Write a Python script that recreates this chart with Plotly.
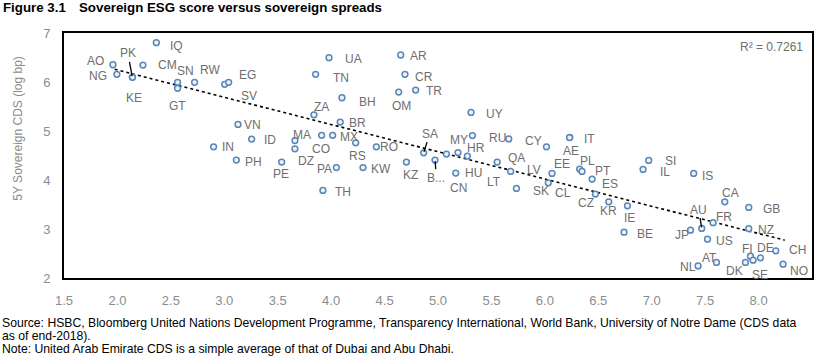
import plotly.graph_objects as go

# ---------------- data ----------------
codes = ["AO", "NG", "PK", "KE", "CM", "IQ", "SN", "GT", "RW", "SV", "EG",
         "UA", "TN", "AR", "CR", "OM", "TR", "BH", "ZA", "BR", "UY", "VN",
         "ID", "IN", "MA", "DZ", "CO", "MX", "RS", "RO", "PH", "PE", "PA",
         "KW", "TH", "KZ", "SA", "B...", "LT", "HR", "HU", "MY", "RU", "CN",
         "QA", "LV", "SK", "CY", "IT", "AE", "EE", "CL", "PL", "PT", "ES",
         "CZ", "KR", "IE", "BE", "IL", "SI", "IS", "CA", "FR", "AU", "JP",
         "US", "GB", "NZ", "CH", "DE", "FI", "SE", "DK", "AT", "NL", "NO"]

esg_score = [1.958, 1.995, 2.139, 2.141, 2.239, 2.364, 2.563, 2.563, 2.722, 3.003, 3.041,
             3.980, 3.855, 4.651, 4.691, 4.632, 4.791, 4.101, 3.839, 4.085, 5.309, 3.128,
             3.256, 2.900, 3.661, 3.661, 3.911, 4.014, 4.230, 4.423, 3.113, 3.537, 4.049,
             4.298, 3.923, 4.704, 4.866, 4.972, 5.079, 5.187, 5.275, 5.322, 5.662, 5.166,
             5.554, 5.680, 5.734, 6.015, 6.233, 6.231, 6.067, 6.032, 6.326, 6.348, 6.442,
             6.473, 6.598, 6.773, 6.741, 6.919, 6.972, 7.393, 7.684, 7.574, 7.468, 7.363,
             7.522, 7.908, 7.908, 8.161, 8.018, 7.924, 7.949, 7.877, 7.606, 7.434, 8.229]

cds_log_bp = [6.352, 6.156, 6.101, 6.095, 6.346, 6.802, 5.993, 5.870, 5.993, 5.952, 5.993,
              6.496, 6.156, 6.551, 6.156, 5.795, 5.836, 5.679, 5.331, 5.182, 5.380, 5.135,
              4.835, 4.678, 4.804, 4.637, 4.911, 4.911, 4.759, 4.678, 4.406, 4.365, 4.253,
              4.253, 3.787, 4.365, 4.555, 4.406, 4.529, 4.559, 4.488, 4.906, 4.839, 4.141,
              4.365, 4.175, 3.828, 4.678, 4.870, 4.866, 4.134, 3.942, 4.222, 4.175, 4.018,
              3.712, 3.554, 3.473, 2.935, 4.216, 4.400, 4.134, 3.554, 3.129, 3.011, 2.976,
              2.792, 3.440, 3.007, 2.554, 2.411, 2.445, 2.364, 2.317, 2.317, 2.247, 2.282]

# linear trend line end points
trend_x = [1.974, 8.245]
trend_y = [6.259, 2.772]

x_ticks = [1.5, 2.0, 2.5, 3.0, 3.5, 4.0, 4.5, 5.0, 5.5, 6.0, 6.5, 7.0, 7.5, 8.0, 8.5]
y_ticks = [2, 3, 4, 5, 6, 7]

r2_text = "R² = 0.7261"
title_num = "Figure 3.1"
title_text = "Sovereign ESG score versus sovereign spreads"
y_title = "5Y Sovereign CDS (log bp)"
source_lines = [
    "Source: HSBC, Bloomberg United Nations Development Programme, Transparency International, World Bank, University of Notre Dame (CDS data",
    "as of end-2018).",
    "Note: United Arab Emirate CDS is a simple average of that of Dubai and Abu Dhabi.",
]

# ---------------- label placement (pixel offsets, layout only) ----------------
label_offsets = {
    "AO": (-17.5, -3.4), "NG": (-18.5, 2), "PK": (-4.4, -23.7), "KE": (1.6, 20.7),
    "IQ": (20, 3.5), "CM": (25, 0), "SN": (8, -11.6), "RW": (15, -12), "EG": (19.3, -7.6),
    "SV": (24.5, 12), "GT": (0.3, 17.2), "UA": (24.4, 1), "TN": (25, 3.7), "AR": (17.3, 1.2),
    "CR": (19.4, 2.4), "OM": (3.2, 14.2), "TR": (18, 1.3), "BH": (25.4, 4.3), "ZA": (7.4, -8),
    "BR": (17.2, 0.8), "UY": (23.7, 1.7), "VN": (15, 0.4), "ID": (18.3, 0.5), "IN": (14.8, 0.5),
    "MA": (6.9, -5.2), "DZ": (11.4, 12.5), "CO": (-0.3, 13.4), "MX": (16, 1.5), "RS": (1.7, 13.1),
    "RO": (12.3, 0.3), "PH": (17.5, 1.7), "PE": (-0.7, 11.8), "PA": (-11.7, 1.7), "KW": (18, 1.7),
    "TH": (20, 1.7), "KZ": (4.6, 13), "SA": (6, -19.2), "B...": (1.4, 17.5), "LT": (47.5, 28),
    "HR": (18.4, -5), "HU": (6.5, 16.5), "MY": (-13.5, 4.5), "RU": (-11.5, -1.3), "CN": (3.2, 15.3),
    "QA": (19.3, -4), "LV": (23, -1.3), "SK": (24.6, 2.5), "CY": (-13.4, -5.4), "IT": (20, 1.4),
    "AE": (1.3, 13.2), "EE": (10.2, -9.6), "CL": (15, 9.8), "PL": (7.8, -8.2), "PT": (20.7, -0.5),
    "ES": (18.2, 5.2), "CZ": (-9.5, 8.5), "KR": (-0.7, 9.1), "IE": (2.3, 12.3), "BE": (20.7, 1.7),
    "IL": (21.7, 2.4), "SI": (21.8, 1), "IS": (14, 2.5), "CA": (5.8, -8.4), "FR": (11.4, -6.1),
    "AU": (-3, -18.8), "JP": (-8.5, 5.3), "US": (17.3, 1.8), "GB": (22.7, 1.9), "NZ": (17.7, 0.9),
    "CH": (21.5, -1), "DE": (4.6, -9.7), "FI": (-2.7, -6.8), "SE": (6.7, 15), "DK": (-10.7, 9),
    "AT": (-7.4, -4.3), "NL": (-10.3, 1.5), "NO": (15.7, 6.8),
}
leader_codes = {"PK", "SA", "B...", "AU"}

W, H = 821, 357
ML, MR, MT, MB = 64.4, 8.7, 33, 79.2
PW, PH_ = W - ML - MR, H - MT - MB
FAMILY = "Liberation Sans, Arial, sans-serif"
LABEL_FONT = dict(family=FAMILY, size=12, color="#6e6e6e")
TICK_FONT = dict(family=FAMILY, size=13, color="#8c8c8c")

fig = go.Figure()

fig.add_trace(go.Scatter(x=trend_x, y=trend_y, mode="lines",
                         line=dict(color="black", width=1.6, dash="dot"),
                         hoverinfo="skip", showlegend=False))

fig.add_trace(go.Scatter(x=esg_score, y=cds_log_bp, mode="markers", text=codes,
                         marker=dict(symbol="circle", size=5.8, color="#eef3f9",
                                     line=dict(color="#5a86b8", width=1.5)),
                         showlegend=False))

annotations = []
for c, xv, yv in zip(codes, esg_score, cds_log_bp):
    dx, dy = label_offsets[c]
    if c in leader_codes:
        annotations.append(dict(x=xv, y=yv, xref="x", yref="y", text=c, showarrow=True,
                                ax=dx, ay=dy, arrowhead=0, arrowwidth=1.3,
                                arrowcolor="black", standoff=1, startstandoff=0,
                                font=LABEL_FONT))
    else:
        annotations.append(dict(x=xv, y=yv, xref="x", yref="y", text=c, showarrow=False,
                                xshift=dx, yshift=-dy, xanchor="center", yanchor="middle",
                                font=LABEL_FONT))


def px_x(p):
    # page pixel -> paper (plot-area) fraction
    return (p - ML) / PW


def px_y(p):
    return 1 - (p - MT) / PH_


annotations.append(dict(x=px_x(805), y=px_y(47), xref="paper", yref="paper", text=r2_text,
                        showarrow=False, xanchor="right", yanchor="middle",
                        font=dict(family=FAMILY, size=12, color="#6e6e6e")))
annotations.append(dict(x=px_x(17.5), y=px_y(128.5), xref="paper", yref="paper",
                        text=y_title, textangle=-90, showarrow=False,
                        xanchor="center", yanchor="middle",
                        font=dict(family=FAMILY, size=12, color="#8c8c8c")))
annotations.append(dict(x=px_x(1), y=px_y(8), xref="paper", yref="paper",
                        text="<b>" + title_num + "</b>",
                        showarrow=False, xanchor="left", yanchor="middle",
                        font=dict(family=FAMILY, size=13.3, color="black")))
annotations.append(dict(x=px_x(77), y=px_y(8), xref="paper", yref="paper",
                        text="<b>" + title_text + "</b>",
                        showarrow=False, xanchor="left", yanchor="middle",
                        font=dict(family=FAMILY, size=13.3, color="black")))
for line, yy in zip(source_lines, [322.3, 335.7, 348.5]):
    annotations.append(dict(x=px_x(0), y=px_y(yy), xref="paper", yref="paper", text=line,
                            showarrow=False, xanchor="left", yanchor="middle",
                            font=dict(family=FAMILY, size=12.2, color="black")))

fig.update_layout(
    width=W, height=H,
    margin=dict(l=ML, r=MR, t=MT, b=MB, pad=0, autoexpand=False),
    paper_bgcolor="white", plot_bgcolor="white",
    annotations=annotations,
    xaxis=dict(range=[1.5, 8.5], tickvals=x_ticks, ticktext=[f"{v:.1f}" for v in x_ticks],
               showgrid=False, zeroline=False, showline=True, linewidth=2,
               linecolor="black", mirror=True, ticks="outside", ticklen=9,
               tickcolor="rgba(0,0,0,0)", tickfont=TICK_FONT, automargin=False),
    yaxis=dict(range=[2, 7], tickvals=y_ticks, ticktext=[str(v) for v in y_ticks],
               showgrid=False, zeroline=False, showline=True, linewidth=2,
               linecolor="black", mirror=True, ticks="outside", ticklen=9,
               tickcolor="rgba(0,0,0,0)", tickfont=TICK_FONT, automargin=False),
    showlegend=False,
)

fig.write_html("out.html", config={"displayModeBar": False},
               post_script="document.body.style.margin='0px';document.body.style.padding='0px';")
